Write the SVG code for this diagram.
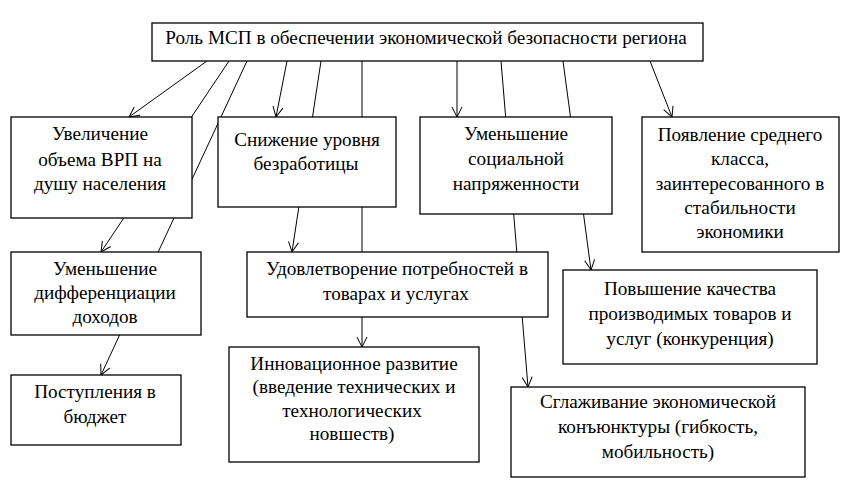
<svg xmlns="http://www.w3.org/2000/svg" width="853" height="487" viewBox="0 0 853 487">
<style>
.box{fill:#fff;stroke:#000;stroke-width:1.3}
.lbl{font-family:"Liberation Serif","Times New Roman",serif;font-size:19.2px;fill:#000;text-anchor:middle}
.con{stroke:#000;stroke-width:1;fill:none}
.arr{marker-end:url(#ah)}
</style>
<defs>
<marker id="ah" markerUnits="userSpaceOnUse" markerWidth="12" markerHeight="12" refX="11" refY="6" orient="auto" viewBox="0 0 12 12">
<path d="M1,1 L11,6 L1,11" fill="none" stroke="#000" stroke-width="1"/>
</marker>
</defs>
<rect width="853" height="487" fill="#fff"/>
<g id="connectors">
<line class="con arr" x1="207" y1="61" x2="129" y2="117"/>
<line class="con arr" x1="229" y1="61" x2="101" y2="252"/>
<line class="con arr" x1="247" y1="61" x2="101" y2="375"/>
<line class="con arr" x1="287" y1="61" x2="276" y2="117"/>
<line class="con arr" x1="321" y1="61" x2="292" y2="252"/>
<line class="con arr" x1="362" y1="61" x2="362" y2="347"/>
<line class="con arr" x1="457" y1="61" x2="457" y2="117"/>
<line class="con arr" x1="501" y1="61" x2="528" y2="387"/>
<line class="con arr" x1="563" y1="61" x2="591" y2="270"/>
<line class="con arr" x1="650" y1="61" x2="672" y2="117"/>
</g>
<g id="root">
<rect class="box" x="152" y="23" width="551" height="38"/>
<text class="lbl" x="426" y="44">Роль МСП в обеспечении экономической безопасности региона</text>
</g>
<g id="n1">
<rect class="box" x="11" y="117" width="181" height="101"/>
<text class="lbl" x="100" y="140">Увеличение</text>
<text class="lbl" x="100" y="166">объема ВРП на</text>
<text class="lbl" x="100" y="190">душу населения</text>
</g>
<g id="n2">
<rect class="box" x="218" y="117" width="178" height="90"/>
<text class="lbl" x="307" y="146">Снижение уровня</text>
<text class="lbl" x="306" y="170">безработицы</text>
</g>
<g id="n3">
<rect class="box" x="420" y="117" width="192" height="97"/>
<text class="lbl" x="516" y="140">Уменьшение</text>
<text class="lbl" x="516" y="165">социальной</text>
<text class="lbl" x="516" y="190">напряженности</text>
</g>
<g id="n4">
<rect class="box" x="642" y="117" width="197" height="135"/>
<text class="lbl" x="740" y="141">Появление среднего</text>
<text class="lbl" x="740" y="165">класса,</text>
<text class="lbl" x="740" y="190">заинтересованного в</text>
<text class="lbl" x="740" y="214">стабильности</text>
<text class="lbl" x="740" y="238">экономики</text>
</g>
<g id="n5">
<rect class="box" x="11" y="252" width="190" height="83"/>
<text class="lbl" x="105" y="275">Уменьшение</text>
<text class="lbl" x="105" y="299">дифференциации</text>
<text class="lbl" x="105" y="323">доходов</text>
</g>
<g id="n6">
<rect class="box" x="11" y="375" width="170" height="70"/>
<text class="lbl" x="95" y="398">Поступления в</text>
<text class="lbl" x="95" y="423">бюджет</text>
</g>
<g id="n7">
<rect class="box" x="247" y="252" width="301" height="65"/>
<text class="lbl" x="397" y="275">Удовлетворение потребностей в</text>
<text class="lbl" x="396" y="300">товарах и услугах</text>
</g>
<g id="n8">
<rect class="box" x="229" y="347" width="250" height="115"/>
<text class="lbl" x="354" y="370">Инновационное развитие</text>
<text class="lbl" x="354" y="393">(введение технических  и</text>
<text class="lbl" x="352" y="417">технологических</text>
<text class="lbl" x="352" y="440">новшеств)</text>
</g>
<g id="n9">
<rect class="box" x="563" y="270" width="254" height="94"/>
<text class="lbl" x="690" y="295">Повышение качества</text>
<text class="lbl" x="690" y="320">производимых товаров и</text>
<text class="lbl" x="690" y="345">услуг (конкуренция)</text>
</g>
<g id="n10">
<rect class="box" x="511" y="387" width="294" height="90"/>
<text class="lbl" x="658" y="408">Сглаживание экономической</text>
<text class="lbl" x="658" y="433">конъюнктуры (гибкость,</text>
<text class="lbl" x="658" y="458">мобильность)</text>
</g>
</svg>
